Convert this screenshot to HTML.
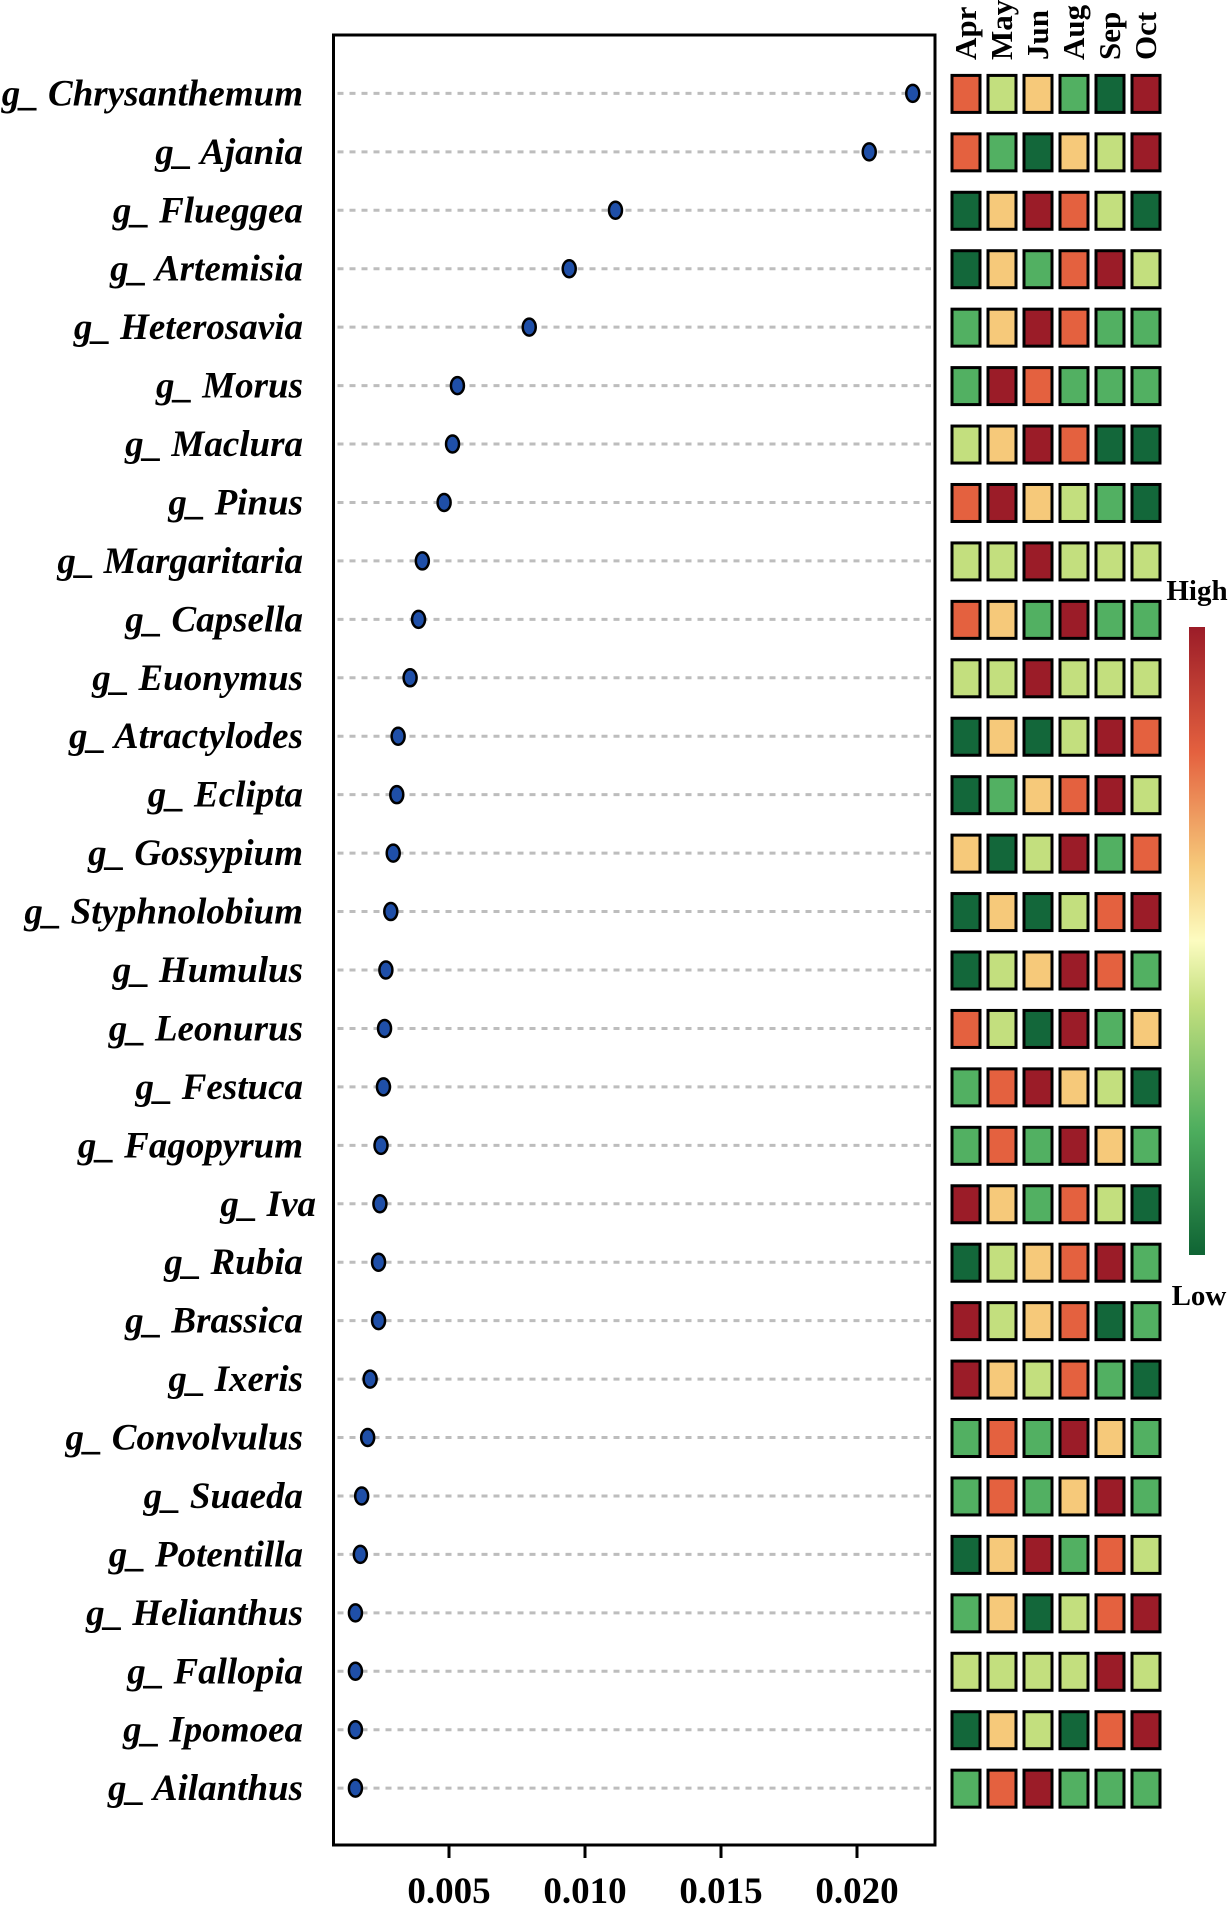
<!DOCTYPE html>
<html><head><meta charset="utf-8"><style>
html,body{margin:0;padding:0;background:#fff;}
svg{display:block;}
</style></head><body>
<svg id="chart" width="1231" height="1905" viewBox="0 0 1231 1905" xmlns="http://www.w3.org/2000/svg">
<defs>
<linearGradient id="cb" x1="0" y1="1" x2="0" y2="0">
<stop offset="0" stop-color="#0f6434"/><stop offset="0.2" stop-color="#4eae5e"/><stop offset="0.4" stop-color="#c3df7e"/><stop offset="0.5" stop-color="#fcfcc0"/><stop offset="0.62" stop-color="#f6c97a"/><stop offset="0.8" stop-color="#e4613f"/><stop offset="1" stop-color="#9b1c28"/>
</linearGradient>
</defs>
<g id="grid"></g><g id="marks"></g><g id="labels"></g><g id="heat"></g>
<rect x="333.5" y="35" width="601.5" height="1810" fill="none" stroke="#000" stroke-width="3"/>
<g id="xaxis"></g>
<g>
<rect x="1189" y="627" width="16" height="628" fill="url(#cb)"/>
<text x="1197" y="600" text-anchor="middle" font-family="Liberation Serif, serif" font-weight="bold" font-size="29">High</text>
<text x="1199" y="1305" text-anchor="middle" font-family="Liberation Serif, serif" font-weight="bold" font-size="29">Low</text>
</g>
</svg>
<script>
const genera=["Chrysanthemum","Ajania","Flueggea","Artemisia","Heterosavia","Morus","Maclura","Pinus","Margaritaria","Capsella","Euonymus","Atractylodes","Eclipta","Gossypium","Styphnolobium","Humulus","Leonurus","Festuca","Fagopyrum","Iva","Rubia","Brassica","Ixeris","Convolvulus","Suaeda","Potentilla","Helianthus","Fallopia","Ipomoea","Ailanthus"];
const values=[0.02205,0.02045,0.01112,0.00942,0.00795,0.00531,0.00513,0.00482,0.00402,0.00388,0.00357,0.00313,0.00308,0.00295,0.00286,0.00268,0.00263,0.00259,0.00250,0.00246,0.00241,0.00241,0.00210,0.00201,0.00179,0.00174,0.00156,0.00156,0.00156,0.00156];
const months=["Apr","May","Jun","Aug","Sep","Oct"];
const heatLevels=["OLYGDR","OGDYLR","DYROLD","DYGORL","GYROGG","GROGGG","LYRODD","ORYLGD","LLRLLL","OYGRGG","LLRLLL","DYDLRO","DGYORL","YDLRGO","DYDLOR","DLYROG","OLDRGY","GORYLD","GOGRYG","RYGOLD","DLYORG","RLYODG","RYLOGD","GOGRYG","GOGYRG","DYRGOL","GYDLOR","LLLLRL","DYLDOR","GORGGG"];
const xTicks=[0.005,0.010,0.015,0.020];
const xTickLabels=["0.005","0.010","0.015","0.020"];
const colorMap={D:"#13673a",G:"#52b062",L:"#c3df7e",Y:"#f6c97a",O:"#e4613f",R:"#9b1c28"};
const NS="http://www.w3.org/2000/svg";
const X0=333.5,X1=935;
function xScale(v){return 449+(v-0.005)*27200;}
function yScale(i){return 93.4+i*58.44;}
function colX(j){return 952+j*36;}
function mk(tag,attrs,parent){const e=document.createElementNS(NS,tag);for(const k in attrs)e.setAttribute(k,attrs[k]);parent.appendChild(e);return e;}
const grid=document.getElementById('grid'),marks=document.getElementById('marks'),labels=document.getElementById('labels'),heat=document.getElementById('heat'),xaxis=document.getElementById('xaxis');
genera.forEach((g,i)=>{
  const y=yScale(i);
  const ln=mk('line',{x1:X0+4,x2:X1-4,y1:y,y2:y,stroke:'#bdbdbd','stroke-width':3,'stroke-dasharray':'6 6'},grid);
  
  
  const d=mk('ellipse',{cx:xScale(values[i]),cy:y,rx:6.5,ry:8.5,fill:'#1f4fa8',stroke:'#000','stroke-width':2.5},marks);
  
  
  const t=mk('text',{x:g==='Iva'?316:303,y:y+12,'text-anchor':'end','font-family':'Liberation Serif, serif','font-weight':'bold','font-style':'italic','font-size':37},labels);
  t.textContent='g_ '+g;
  
  
  for(let j=0;j<6;j++){
    const r=mk('rect',{x:colX(j),y:y-18,width:28,height:37,fill:colorMap[heatLevels[i][j]],stroke:'#000','stroke-width':3},heat);
    
    
  }
});
months.forEach((m,j)=>{
  const cx=colX(j)+14+10;
  const t=mk('text',{x:cx,y:60,transform:'rotate(-90 '+cx+' 60)','font-family':'Liberation Serif, serif','font-weight':'bold','font-size':31},heat);
  t.textContent=m;
  
  
});
xTicks.forEach((v,k)=>{
  const x=xScale(v);
  const l=mk('line',{x1:x,x2:x,y1:1845,y2:1858,stroke:'#000','stroke-width':3},xaxis);
  
  
  const t=mk('text',{x:x,y:1903,'text-anchor':'middle','font-family':'Liberation Serif, serif','font-weight':'bold','font-size':37},xaxis);
  t.textContent=xTickLabels[k];
  
  
});
</script>
</body></html>
